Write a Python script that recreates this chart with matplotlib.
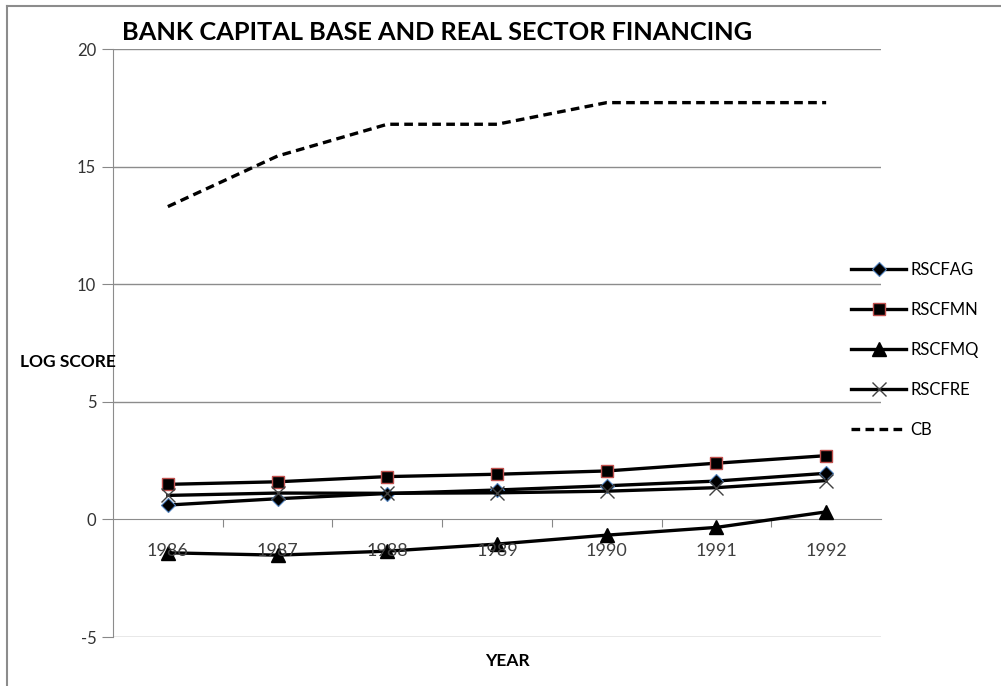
import matplotlib
matplotlib.use("Agg")
import matplotlib.pyplot as plt
from matplotlib.lines import Line2D

years = ['1986', '1987', '1988', '1989', '1990', '1991', '1992']
rscfag = [0.61, 0.88, 1.10, 1.25, 1.43, 1.63, 1.96]
rscfmn = [1.49, 1.60, 1.82, 1.92, 2.06, 2.39, 2.71]
rscfmq = [-1.42, -1.52, -1.35, -1.05, -0.67, -0.34, 0.32]
rscfre = [1.02, 1.12, 1.11, 1.13, 1.20, 1.35, 1.65]
cb = [13.3, 15.45, 16.8, 16.8, 17.72, 17.72, 17.72]

plt.rcParams['font.family'] = ['Lato', 'DejaVu Sans']

fig = plt.figure(figsize=(10.01, 6.86), dpi=100)
ax = fig.add_axes([113 / 1001, 1 - 637 / 686, (881 - 113) / 1001, (637 - 49) / 686])

x = list(range(len(years)))
lw = 2.4

ax.plot(x, rscfag, color='black', lw=lw, marker='D', ms=7,
        mfc='black', mec='#4f81bd', mew=0.8, label='RSCFAG', zorder=3)
ax.plot(x, rscfmn, color='black', lw=lw, marker='s', ms=9,
        mfc='black', mec='#c0504d', mew=1.0, label='RSCFMN', zorder=3)
ax.plot(x, rscfmq, color='black', lw=lw, marker='^', ms=10,
        mfc='black', mec='black', label='RSCFMQ', zorder=3)
ax.plot(x, rscfre, color='black', lw=lw, marker='x', ms=10,
        mec='#404040', mew=1.0, label='RSCFRE', zorder=3)
ax.plot(x, cb, color='black', lw=lw, ls=(0, (2.6, 1.6)), label='CB', zorder=3)

ax.set_xlim(-0.5, len(years) - 0.5)
ax.set_ylim(-5, 20)
ax.set_yticks([-5, 0, 5, 10, 15, 20])
ax.set_yticklabels(['-5', '0', '5', '10', '15', '20'], fontsize=12, color='#333333')

# category axis crosses at zero, ticks between categories
ax.set_xticks([i + 0.5 for i in x[:-1]])
ax.set_xticklabels([])
ax.tick_params(axis='x', length=6, color='#888888', direction='out')
ax.tick_params(axis='y', length=8, color='#888888', pad=4)
for i, yr in zip(x, years):
    ax.annotate(yr, (i, 0), xytext=(0, -17), textcoords='offset points',
                ha='center', va='top', fontsize=13, color='#404040', zorder=4)

for yv in [-5, 5, 10, 15, 20]:
    ax.axhline(yv, color='#8c8c8c', lw=1.0, zorder=1)

ax.spines['bottom'].set_position(('data', 0))
ax.spines['bottom'].set_color('#8c8c8c')
ax.spines['left'].set_color('#8c8c8c')
ax.spines['top'].set_visible(False)
ax.spines['right'].set_visible(False)

fig.text(122 / 1001, 1 - 33 / 686, 'BANK CAPITAL BASE AND REAL SECTOR FINANCING',
         fontsize=18.3, fontweight='bold', va='center', ha='left')
fig.text(20 / 1001, 1 - 362 / 686, 'LOG SCORE', fontsize=12.5,
         fontweight='bold', va='center', ha='left')
fig.text(507 / 1001, 1 - 661 / 686, 'YEAR', fontsize=12.5,
         fontweight='bold', va='center', ha='center')

handles, labels = ax.get_legend_handles_labels()
fig.legend(handles, labels, loc='center left', bbox_to_anchor=(851 / 1001, 1 - 350 / 686),
           frameon=False, fontsize=12, handlelength=3.3, handletextpad=0.25,
           labelspacing=1.45, borderaxespad=0, borderpad=0)

# outer chart frame (left and top edges)
fig.add_artist(Line2D([7 / 1001, 7 / 1001], [0, 1 - 6 / 686],
                      transform=fig.transFigure, color='#8c8c8c', lw=1.5))
fig.add_artist(Line2D([7 / 1001, 1], [1 - 6 / 686, 1 - 6 / 686],
                      transform=fig.transFigure, color='#8c8c8c', lw=1.5))

fig.savefig('out.png', dpi=100)
